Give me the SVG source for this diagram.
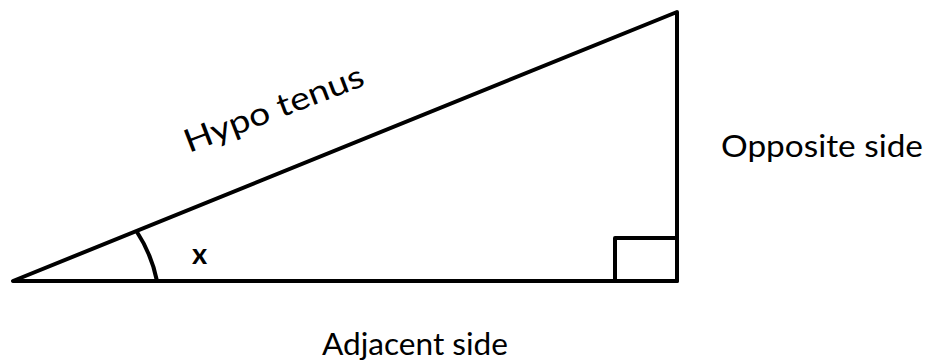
<svg xmlns="http://www.w3.org/2000/svg" width="931" height="364" viewBox="0 0 931 364">
<style>
.ln{fill:none;stroke:#000;stroke-width:4;stroke-linejoin:round;stroke-linecap:round}
.t{font-family:Lato,"Liberation Sans",sans-serif;font-size:31px;fill:#000}
</style>
<rect width="931" height="364" fill="#fff"/>
<g id="triangle">
<polygon class="ln" points="13,281 677,281 677,12"/>
<rect class="ln" x="615" y="238" width="62" height="43"/>
<path class="ln" d="M137,232 A140,140 0 0 1 157,281"/>
</g>
<g id="labels">
<text class="t" x="0" y="0" transform="translate(189,153) rotate(-21)" style="font-size:32px" textLength="190" lengthAdjust="spacingAndGlyphs">Hypo tenus</text>
<text class="t" x="721" y="157" textLength="202" lengthAdjust="spacingAndGlyphs">Opposite side</text>
<text class="t" x="322" y="355" textLength="186" lengthAdjust="spacingAndGlyphs">Adjacent side</text>
<text class="t" x="192" y="264" style="font-weight:bold;font-size:29px">x</text>
</g>
</svg>
